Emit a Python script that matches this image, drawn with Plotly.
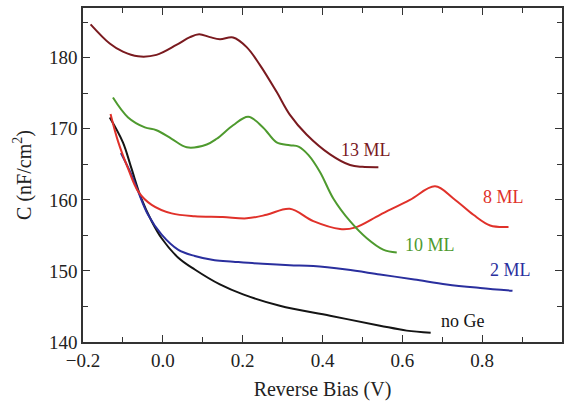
import plotly.graph_objects as go

# ---- data ----
x_13 = [-0.181, -0.133, -0.10, -0.062, -0.016, 0.034, 0.068, 0.091, 0.118, 0.143, 0.176, 0.21, 0.243, 0.285, 0.318, 0.360, 0.419, 0.469, 0.50, 0.540]
y_13 = [184.7, 182.0, 180.85, 180.2, 180.4, 181.8, 182.9, 183.3, 182.9, 182.6, 182.85, 181.5, 179.0, 175.2, 172.0, 169.2, 166.4, 164.9, 164.65, 164.6]

x_10 = [-0.125, -0.087, -0.045, -0.016, 0.022, 0.060, 0.110, 0.135, 0.176, 0.214, 0.251, 0.285, 0.318, 0.340, 0.365, 0.394, 0.427, 0.469, 0.511, 0.552, 0.586]
y_10 = [174.4, 171.6, 170.2, 169.8, 168.6, 167.4, 167.8, 168.6, 170.5, 171.7, 170.2, 168.1, 167.7, 167.5, 166.3, 163.9, 160.2, 157.0, 154.6, 153.0, 152.6]

x_8 = [-0.131, -0.112, -0.087, -0.062, -0.028, 0.022, 0.080, 0.150, 0.210, 0.260, 0.318, 0.377, 0.444, 0.481, 0.544, 0.619, 0.682, 0.728, 0.778, 0.820, 0.866]
y_8 = [172.1, 168.2, 164.4, 161.2, 159.3, 158.1, 157.7, 157.6, 157.4, 157.9, 158.75, 157.0, 155.9, 156.1, 157.9, 160.0, 161.9, 160.2, 157.9, 156.4, 156.2]

x_2 = [-0.105, -0.079, -0.062, -0.037, -0.003, 0.038, 0.080, 0.130, 0.176, 0.250, 0.318, 0.377, 0.460, 0.544, 0.630, 0.711, 0.795, 0.876]
y_2 = [166.6, 163.6, 161.2, 157.9, 155.1, 153.0, 152.1, 151.5, 151.3, 151.0, 150.8, 150.7, 150.2, 149.5, 148.8, 148.1, 147.6, 147.2]

x_0 = [-0.133, -0.1, -0.079, -0.054, -0.028, -0.003, 0.038, 0.080, 0.143, 0.201, 0.293, 0.419, 0.544, 0.611, 0.671]
y_0 = [171.6, 168.1, 164.5, 160.2, 157.0, 154.6, 151.9, 150.2, 148.1, 146.7, 145.1, 143.7, 142.3, 141.6, 141.3]

series = [
    ("no Ge", x_0, y_0, "#141414", 0.751, 143.0),
    ("2 ML", x_2, y_2, "#2a2f9e", 0.872, 150.2),
    ("8 ML", x_8, y_8, "#e0312a", 0.853, 160.4),
    ("10 ML", x_10, y_10, "#4e9a2e", 0.670, 153.7),
    ("13 ML", x_13, y_13, "#7a1a1f", 0.509, 167.0),
]

FONT = "Liberation Serif"

fig = go.Figure()
for name, xs, ys, col, lx, ly in series:
    fig.add_trace(go.Scatter(x=xs, y=ys, mode="lines", name=name,
                             line=dict(color=col, width=2, shape="spline", smoothing=1.0),
                             showlegend=False))
    fig.add_annotation(x=lx, y=ly, xref="x", yref="y", text=name, showarrow=False,
                       font=dict(family=FONT, size=18, color=col))

axis_common = dict(showline=True, linecolor="#333", linewidth=1.6, mirror="ticks",
                   ticks="inside", ticklen=7, tickwidth=1.4, tickcolor="#333",
                   showgrid=False, zeroline=False,
                   tickfont=dict(family=FONT, size=19, color="#222"))

fig.update_xaxes(range=[-0.2, 1.0], dtick=0.2, tick0=0, tickformat=".1f",
                 minor=dict(dtick=0.1, ticks="inside", ticklen=5, tickcolor="#333"),
                 title=dict(text="Reverse Bias (V)", font=dict(family=FONT, size=20, color="#222"), standoff=12),
                 **axis_common)
fig.update_yaxes(range=[140, 187], dtick=10, tick0=140,
                 minor=dict(dtick=5, ticks="inside", ticklen=5, tickcolor="#333"),
                 title=dict(text="C (nF/cm<sup>2</sup>)", font=dict(family=FONT, size=20, color="#222"), standoff=12),
                 **axis_common)

fig.update_layout(width=573, height=409, margin=dict(l=83, r=11, t=6, b=67),
                  plot_bgcolor="white", paper_bgcolor="white")

fig.write_html("out.html")
